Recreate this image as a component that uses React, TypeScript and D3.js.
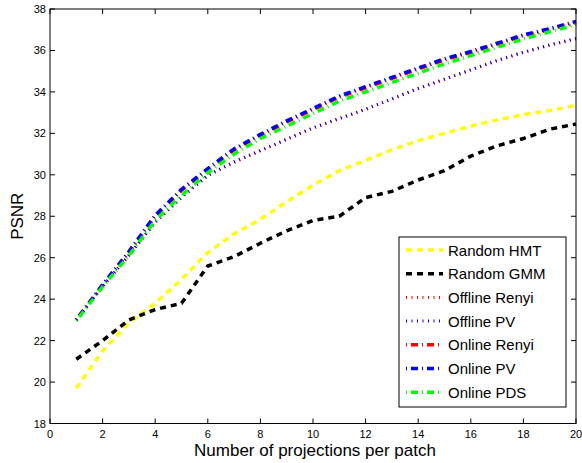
import React from "react";
import * as d3 from "d3";

const xValues = [1,2,3,4,5,6,7,8,9,10,11,12,13,14,15,16,17,18,19,20];
const randomHMT = [19.7,21.5,22.85,23.8,24.95,26.25,27.15,27.85,28.7,29.5,30.2,30.7,31.2,31.65,32.0,32.35,32.65,32.9,33.1,33.35];
const randomGMM = [21.1,22.0,23.0,23.5,23.8,25.6,26.05,26.7,27.3,27.8,28.0,28.9,29.2,29.75,30.2,30.9,31.4,31.75,32.2,32.45];
const offlineRenyi = [23.0,24.6,26.1,27.7,28.9,29.95,30.6,31.15,31.7,32.25,32.7,33.15,33.65,34.15,34.6,35.05,35.5,35.9,36.25,36.55];
const offlinePV = [23.0,24.62,26.12,27.72,28.92,29.98,30.63,31.18,31.72,32.27,32.72,33.17,33.67,34.17,34.62,35.07,35.52,35.92,36.27,36.58];
const onlineRenyi = [23.0,24.68,26.25,28.0,29.25,30.25,31.2,31.9,32.55,33.15,33.75,34.2,34.65,35.1,35.55,35.9,36.3,36.7,37.0,37.35];
const onlinePV = [23.0,24.7,26.3,28.05,29.3,30.3,31.25,31.95,32.6,33.2,33.8,34.25,34.7,35.15,35.6,35.95,36.35,36.75,37.05,37.4];
const onlinePDS = [22.95,24.6,26.1,27.8,29.0,30.1,31.0,31.75,32.35,32.95,33.55,34.0,34.45,34.9,35.35,35.75,36.15,36.55,36.9,37.25];

const seriesNames = ["Random HMT","Random GMM","Offline Renyi","Offline PV","Online Renyi","Online PV","Online PDS"];
const seriesData = [randomHMT, randomGMM, offlineRenyi, offlinePV, onlineRenyi, onlinePV, onlinePDS];
const seriesColors = ["#ffff00","#000000","#ff0000","#0000ff","#ff0000","#0000ff","#00ff00"];
const seriesStyles = ["dash","dash","dot","dot","dashdot","dashdot","dashdot"];

const xTicks = [0,2,4,6,8,10,12,14,16,18,20];
const yTicks = [18,20,22,24,26,28,30,32,34,36,38];

const W = 582, H = 463;
const L = 50, R = 576, T = 9, B = 423.5;

const styleMap: Record<string, {w: number; dash: string}> = {
  dash: { w: 3.5, dash: "6,5" },
  dot: { w: 3, dash: "1,4.5" },
  dashdot: { w: 3.5, dash: "1,4,7,4" },
};

export default function App() {
  const x = d3.scaleLinear().domain([0, 20]).range([L, R]);
  const y = d3.scaleLinear().domain([18, 38]).range([B, T]);
  const line = d3.line<number>().x((_, i) => x(xValues[i])).y((d) => y(d));
  const font = "'Liberation Sans', Arial, sans-serif";
  const legX = 399, legY = 237, legW = 167, legH = 170;
  const rowY0 = 250, rowDy = 23.7;
  return (
    <svg width={W} height={H} style={{ position: "absolute", left: 0, top: 0, background: "#fff" }} fontFamily={font}>
      <rect x={0} y={0} width={W} height={H} fill="#fff" />
      {seriesData.map((d, i) => {
        const s = styleMap[seriesStyles[i]];
        return (
          <path key={i} d={line(d) || ""} fill="none" stroke={seriesColors[i]} strokeWidth={s.w}
            strokeDasharray={s.dash} strokeLinejoin="round" />
        );
      })}
      <rect x={L} y={T} width={R - L} height={B - T} fill="none" stroke="#000" strokeWidth={1} />
      {xTicks.map((t) => (
        <g key={"x" + t}>
          <line x1={x(t)} x2={x(t)} y1={B} y2={B - 5} stroke="#000" />
          <line x1={x(t)} x2={x(t)} y1={T} y2={T + 5} stroke="#000" />
          <text x={x(t)} y={438} fontSize={11} textAnchor="middle" fill="#000">{t}</text>
        </g>
      ))}
      {yTicks.map((t) => (
        <g key={"y" + t}>
          <line x1={L} x2={L + 5} y1={y(t)} y2={y(t)} stroke="#000" />
          <line x1={R} x2={R - 5} y1={y(t)} y2={y(t)} stroke="#000" />
          <text x={46} y={y(t) + 4} fontSize={11} textAnchor="end" fill="#000">{t}</text>
        </g>
      ))}
      <text x={(L + R) / 2 + 2} y={456} fontSize={17} textAnchor="middle" fill="#000">Number of projections per patch</text>
      <text transform={`translate(23,${(T + B) / 2}) rotate(-90)`} fontSize={17} textAnchor="middle" fill="#000">PSNR</text>
      <rect x={legX} y={legY} width={legW} height={legH} fill="#fff" stroke="#000" strokeWidth={1} />
      {seriesNames.map((n, i) => {
        const s = styleMap[seriesStyles[i]];
        const yy = rowY0 + i * rowDy;
        return (
          <g key={n}>
            <line x1={406} x2={443} y1={yy} y2={yy} stroke={seriesColors[i]} strokeWidth={s.w} strokeDasharray={s.dash} />
            <text x={448} y={yy + 5.5} fontSize={15} fill="#000">{n}</text>
          </g>
        );
      })}
    </svg>
  );
}
